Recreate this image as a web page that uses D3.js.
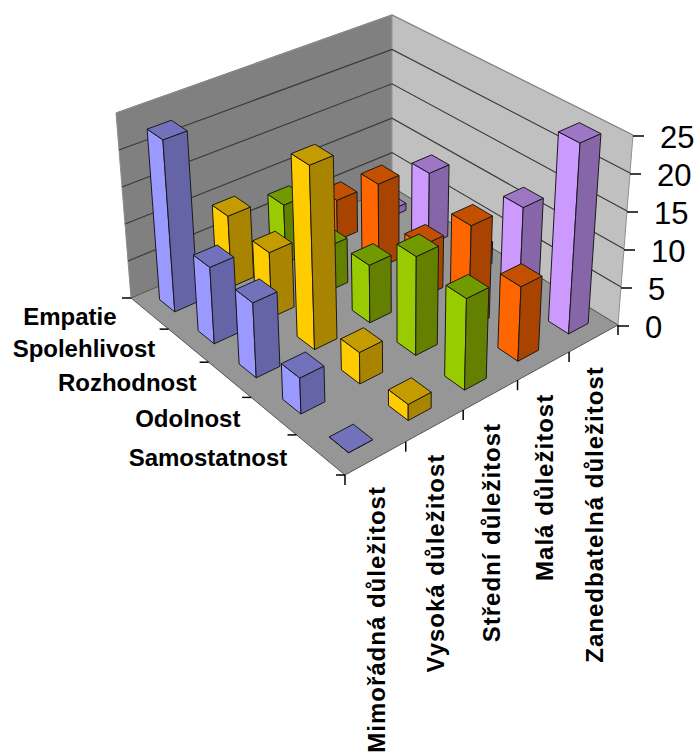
<!DOCTYPE html>
<html>
<head>
<meta charset="utf-8">
<script src="https://d3js.org/d3.v7.min.js"></script>
<style>
html, body {margin: 0; padding: 0; background: #fff; overflow: hidden;}
text {font-family: "Liberation Sans", Arial, sans-serif; fill: #000;}
</style>
</head>
<body>
<div id="chart"></div>
<script>
var levels = ["Mimořádná důležitost", "Vysoká důležitost", "Střední důležitost", "Malá důležitost", "Zanedbatelná důležitost"];
var traits = ["Empatie", "Spolehlivost", "Rozhodnost", "Odolnost", "Samostatnost"];

// one array per level, in the order of traits
var mimoradna = [23, 10, 9.6, 4.5, 0];
var vysoka = [9.6, 8.6, 24, 4, 2];
var stredni = [8, 6, 7.6, 12.8, 11.6];
var mala = [5.6, 11.5, 7, 13.5, 9.6];
var zanedbatelna = [1, 10, 3, 12.7, 25];
var series = [mimoradna, vysoka, stredni, mala, zanedbatelna];

var valueTicks = [0, 5, 10, 15, 20, 25];

// light side, dark side, top
var colors = [
    ["#9999ff", "#6464a6", "#7272bc"],
    ["#ffcc00", "#a88400", "#c49c00"],
    ["#99cc00", "#648000", "#739900"],
    ["#ff6600", "#a84400", "#c25000"],
    ["#cc99ff", "#8666a8", "#9e77c4"]
];

var width = 696, height = 752;

// corners of the floor and of the plane at the top of the value axis: L, back, R, front
var floorQuad = [[131, 298], [392, 187], [618, 325], [345, 475]];
var topQuad = [[116, 113], [392, 15], [633, 135], [341, 268]];

// square to quad mapping, u runs front to right, v runs left to front
function quadMap(q) {
    var x0 = q[0][0], y0 = q[0][1], x1 = q[1][0], y1 = q[1][1],
        x2 = q[2][0], y2 = q[2][1], x3 = q[3][0], y3 = q[3][1];
    var dx1 = x1 - x2, dx2 = x3 - x2, sx = x0 - x1 + x2 - x3,
        dy1 = y1 - y2, dy2 = y3 - y2, sy = y0 - y1 + y2 - y3;
    var den = dx1 * dy2 - dx2 * dy1,
        g = (sx * dy2 - dx2 * sy) / den,
        h = (dx1 * sy - sx * dy1) / den,
        a = x1 - x0 + g * x1, b = x3 - x0 + h * x3,
        d = y1 - y0 + g * y1, e = y3 - y0 + h * y3;
    return function (u, v) {
        var w = g * u + h * v + 1;
        return [(a * u + b * v + x0) / w, (d * u + e * v + y0) / w];
    };
}
var floorMap = quadMap(floorQuad), topMap = quadMap(topQuad);

var u = d3.scaleBand().domain(d3.range(levels.length)).range([0, 1]).paddingInner(0.6).paddingOuter(0.3),
    v = d3.scaleBand().domain(d3.range(traits.length)).range([0, 1]).paddingInner(0.6).paddingOuter(0.3),
    y = d3.scaleLinear().domain([0, 25]).range([0, 1]);

function project(uu, vv, value) {
    var a = floorMap(uu, vv), b = topMap(uu, vv), t = y(value);
    return [a[0] + (b[0] - a[0]) * t, a[1] + (b[1] - a[1]) * t];
}

var line = d3.line();
function poly(pts) {return line(pts) + "Z";}

var svg = d3.select("#chart").append("svg")
    .attr("width", width)
    .attr("height", height);

// walls and floor
svg.append("path")
    .attr("d", poly([project(0, 0, 0), project(1, 0, 0), project(1, 0, 25), project(0, 0, 25)]))
    .attr("fill", "#808080").attr("stroke", "#8c8c8c");
svg.append("path")
    .attr("d", poly([project(1, 0, 0), project(1, 1, 0), project(1, 1, 25), project(1, 0, 25)]))
    .attr("fill", "#c0c0c0").attr("stroke", "#909090");
svg.append("path")
    .attr("d", poly([project(0, 0, 0), project(1, 0, 0), project(1, 1, 0), project(0, 1, 0)]))
    .attr("fill", "#969696").attr("stroke", "#555");

// gridlines
valueTicks.slice(1).forEach(function (t) {
    svg.append("path")
        .attr("d", line([project(0, 0, t), project(1, 0, t), project(1, 1, t)]))
        .attr("fill", "none")
        .attr("stroke", t === 25 ? "#8a8a8a" : "#3a3a3a")
        .attr("stroke-width", 1.2);
});

// value axis
var yAxis = svg.append("g").attr("class", "axis axis--y");
valueTicks.forEach(function (t) {
    var p = project(1, 1, t);
    yAxis.append("line")
        .attr("x1", p[0]).attr("y1", p[1] + 1)
        .attr("x2", p[0] + 11).attr("y2", p[1] + 1)
        .attr("stroke", "#000").attr("stroke-width", 1.5);
    yAxis.append("text")
        .attr("x", p[0] + 27)
        .attr("y", p[1] + 2)
        .attr("dy", "0.36em")
        .style("font-size", "31px")
        .text(t);
});

// trait axis, on the left front edge
var traitAxis = svg.append("g").attr("class", "axis axis--trait");
d3.range(traits.length + 1).forEach(function (i) {
    var p = project(0, i / traits.length, 0);
    traitAxis.append("line")
        .attr("x1", p[0]).attr("y1", p[1])
        .attr("x2", p[0] - 9).attr("y2", p[1])
        .attr("stroke", "#000").attr("stroke-width", 1.5);
});
traits.forEach(function (d, i) {
    var p = project(0, (i + 0.5) / traits.length, 0);
    traitAxis.append("text")
        .attr("x", p[0] - 33)
        .attr("y", p[1] + 3)
        .attr("dy", "0.36em")
        .attr("text-anchor", "end")
        .style("font-size", "24px")
        .style("font-weight", "bold")
        .text(d);
});

// level axis, on the right front edge
var levelAxis = svg.append("g").attr("class", "axis axis--level");
d3.range(levels.length + 1).forEach(function (i) {
    var p = project(i / levels.length, 1, 0);
    levelAxis.append("line")
        .attr("x1", p[0]).attr("y1", p[1])
        .attr("x2", p[0]).attr("y2", p[1] + 10)
        .attr("stroke", "#000").attr("stroke-width", 1.5);
});
levels.forEach(function (d, i) {
    var p = project((i + 0.5) / levels.length, 1, 0);
    levelAxis.append("text")
        .attr("transform", "translate(" + (p[0] + 1) + "," + (p[1] + 28) + ") rotate(-90)")
        .attr("dy", "0.36em")
        .attr("text-anchor", "end")
        .style("font-size", "24px")
        .style("font-weight", "bold")
        .style("letter-spacing", "1px")
        .text(d);
});

// bars, back to front
var bars = [];
traits.forEach(function (t, vi) {
    for (var ui = levels.length - 1; ui >= 0; ui--) {
        bars.push({ui: ui, vi: vi, value: series[ui][vi]});
    }
});

var bar = svg.selectAll(".bar")
    .data(bars)
    .enter().append("g")
    .attr("class", "bar")
    .attr("stroke", "#1a1a1a")
    .attr("stroke-width", 1)
    .attr("stroke-linejoin", "round");

function corners(d) {
    return {
        u0: u(d.ui), u1: u(d.ui) + u.bandwidth(),
        v0: v(d.vi), v1: v(d.vi) + v.bandwidth()
    };
}

bar.append("path")
    .attr("fill", d => colors[d.ui][0])
    .attr("d", function (d) {
        var c = corners(d);
        return poly([project(c.u0, c.v0, 0), project(c.u0, c.v1, 0), project(c.u0, c.v1, d.value), project(c.u0, c.v0, d.value)]);
    });
bar.append("path")
    .attr("fill", d => colors[d.ui][1])
    .attr("d", function (d) {
        var c = corners(d);
        return poly([project(c.u0, c.v1, 0), project(c.u1, c.v1, 0), project(c.u1, c.v1, d.value), project(c.u0, c.v1, d.value)]);
    });
bar.append("path")
    .attr("fill", d => colors[d.ui][2])
    .attr("d", function (d) {
        var c = corners(d);
        return poly([project(c.u0, c.v0, d.value), project(c.u1, c.v0, d.value), project(c.u1, c.v1, d.value), project(c.u0, c.v1, d.value)]);
    });
</script>
</body>
</html>
